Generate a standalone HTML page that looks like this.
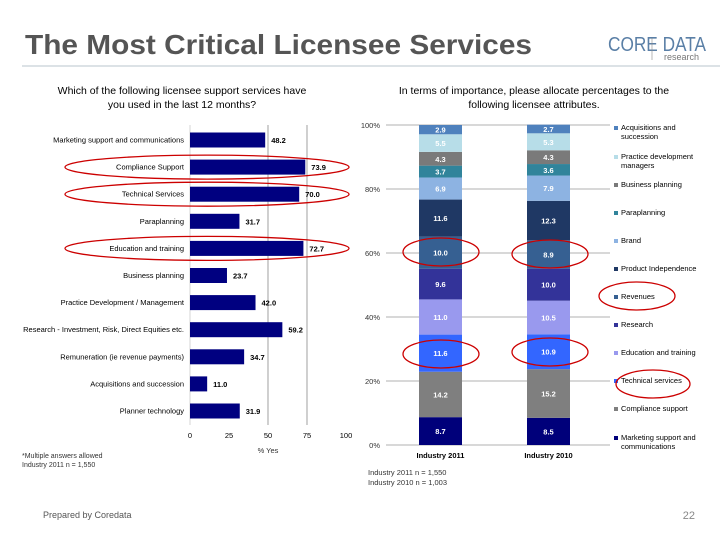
<!DOCTYPE html>
<html><head><meta charset="utf-8"><style>
body{margin:0;background:#fff;font-family:"Liberation Sans",sans-serif}
svg text{font-family:"Liberation Sans",sans-serif}
</style></head><body>
<svg id="s" width="720" height="540" xmlns="http://www.w3.org/2000/svg">
<text x="25" y="54" font-size="28" font-weight="bold" fill="#555" textLength="507" lengthAdjust="spacingAndGlyphs">The Most Critical Licensee Services</text>
<text x="608" y="51" font-size="20" fill="#5a7fa6" textLength="98" lengthAdjust="spacingAndGlyphs">CORE DATA</text>
<line x1="652" y1="38" x2="652" y2="60" stroke="#888" stroke-width="0.6"/>
<text x="664" y="60" font-size="9" fill="#777">research</text>
<line x1="22" y1="66" x2="720" y2="66" stroke="#c8d0d8" stroke-width="1.2"/>
<text x="182" y="94" font-size="10.5" text-anchor="middle" fill="#000">Which of the following licensee support services have</text>
<text x="182" y="108" font-size="10.5" text-anchor="middle" fill="#000">you used in the last 12 months?</text>
<text x="534" y="94" font-size="10.5" text-anchor="middle" fill="#000">In terms of importance, please allocate percentages to the</text>
<text x="534" y="108" font-size="10.5" text-anchor="middle" fill="#000">following licensee attributes.</text>
<g id="left"></g>
<g id="right"></g>
<text x="22" y="458" font-size="7" fill="#333">*Multiple answers allowed</text>
<text x="22" y="467" font-size="7" fill="#333">Industry 2011 n = 1,550</text>
<text x="368" y="475" font-size="7.5" fill="#333">Industry 2011 n = 1,550</text>
<text x="368" y="485" font-size="7.5" fill="#333">Industry 2010 n = 1,003</text>
<text x="43" y="518" font-size="9" fill="#555">Prepared by Coredata</text>
<text x="695" y="519" font-size="11" fill="#888" text-anchor="end">22</text>
</svg>
<script>
const catsL=["Marketing support and communications","Compliance Support","Technical Services","Paraplanning","Education and training","Business planning","Practice Development / Management","Research - Investment, Risk, Direct Equities etc.","Remuneration (ie revenue payments)","Acquisitions and succession","Planner technology"];
const valsL=[48.2,73.9,70.0,31.7,72.7,23.7,42.0,59.2,34.7,11.0,31.9];
const ticksL=[0,25,50,75,100];
const highlightL=[1,2,4];

const seriesR=["Marketing support and communications","Compliance support","Technical services","Education and training","Research","Revenues","Product Independence","Brand","Paraplanning","Business planning","Practice development managers","Acquisitions and succession"];
const groupsR=["Industry 2011","Industry 2010"];
const vals2011=[8.7,14.2,11.6,11.0,9.6,10.0,11.6,6.9,3.7,4.3,5.5,2.9];
const vals2010=[8.5,15.2,10.9,10.5,10.0,8.9,12.3,7.9,3.6,4.3,5.3,2.7];
const ticksR=[0,20,40,60,80,100];
const colorsR=["#00007a","#7f7f7f","#3366ff","#9999ee","#333399","#366092","#1f3864","#8db3e2","#31849b","#7a7a7a","#b7dde8","#4f81bd"];

const NS="http://www.w3.org/2000/svg";
function mk(p,t,a,txt){const e=document.createElementNS(NS,t);for(const k in a)e.setAttribute(k,a[k]);if(txt!==undefined)e.textContent=txt;p.appendChild(e);return e;}

const L=document.getElementById('left');
const xL=v=>190+v*1.56;
const yL=i=>140+i*27.1;
ticksL.forEach(t=>{
  if(t===50||t===75){const g=mk(L,'line',{x1:xL(t),y1:125,x2:xL(t),y2:425,stroke:'#888','stroke-width':0.8});
  
  }
  const tl=mk(L,'text',{x:xL(t),y:438,'font-size':7.5,'text-anchor':'middle',fill:'#000'},String(t));
  
  
});
const ax=mk(L,'line',{x1:190,y1:125,x2:190,y2:425,stroke:'#ccc','stroke-width':0.8});


const xt=mk(L,'text',{x:268,y:453,'font-size':7.5,'text-anchor':'middle',fill:'#333'},'% Yes');


catsL.forEach((c,i)=>{
  const y=yL(i);
  const b=mk(L,'rect',{x:190,y:y-7.5,width:xL(valsL[i])-190,height:15,fill:'#000080'});
  
  
  const l=mk(L,'text',{x:184,y:y+2.5,'font-size':7.5,'text-anchor':'end',fill:'#000'},c);
  
  
  const v=mk(L,'text',{x:xL(valsL[i])+6,y:y+3,'font-size':7.5,'font-weight':'bold',fill:'#000'},valsL[i].toFixed(1));
  
  
});
highlightL.forEach(i=>{
  const e=mk(L,'ellipse',{cx:207,cy:yL(i),rx:142,ry:12,fill:'none',stroke:'#c00','stroke-width':1.3});
  
  
});

const R=document.getElementById('right');
const yR=v=>445-v*3.2;
const gx=[419,527];
ticksR.forEach(t=>{
  const g=mk(R,'line',{x1:386,y1:yR(t),x2:610,y2:yR(t),stroke:'#999','stroke-width':0.8});
  
  
  const tl=mk(R,'text',{x:380,y:yR(t)+3,'font-size':7.5,'text-anchor':'end',fill:'#333'},t+'%');
  
  
});
[vals2011,vals2010].forEach((vals,gi)=>{
  let cum=0;
  vals.forEach((v,si)=>{
    const r=mk(R,'rect',{x:gx[gi],y:yR(cum+v),width:43,height:yR(cum)-yR(cum+v),fill:colorsR[si]});
    
    
    const tx=mk(R,'text',{x:gx[gi]+21.5,y:(yR(cum)+yR(cum+v))/2+3,'font-size':7.5,'font-weight':'bold','text-anchor':'middle',fill:'#fff'},v.toFixed(1));
    
    
    cum+=v;
  });
  const gl=mk(R,'text',{x:gx[gi]+21.5,y:458,'font-size':7.5,'font-weight':'bold','text-anchor':'middle',fill:'#000'},groupsR[gi]);
  
  
});
const legY=[130,159,187,215,243,271,299,327,355,383,411,440];
const legendOrder=seriesR.slice().reverse();
legendOrder.forEach((s,i)=>{
  const si=seriesR.length-1-i;
  const y=legY[i];
  const m=mk(R,'rect',{x:614,y:y-4,width:4,height:4,fill:colorsR[si]});
  
  
  let lines=[s];
  if(s.length>22){lines=s==="Acquisitions and succession"?["Acquisitions and","succession"]:s==="Practice development managers"?["Practice development","managers"]:["Marketing support and","communications"];}
  lines.forEach((ln,k)=>{
    const t=mk(R,'text',{x:621,y:y+k*9,'font-size':7.5,fill:'#000'},ln);
    
    
  });
});
const hl=[[441,252],[550,254],[441,354],[550,352]];
hl.forEach(p=>{
  const e=mk(R,'ellipse',{cx:p[0],cy:p[1],rx:38,ry:14,fill:'none',stroke:'#c00','stroke-width':1.3});
  
  
});
[[637,296,38,14],[653,384,37,14]].forEach(p=>{
  const e=mk(R,'ellipse',{cx:p[0],cy:p[1],rx:p[2],ry:p[3],fill:'none',stroke:'#c00','stroke-width':1.3});
  
  
});
</script>
</body></html>
